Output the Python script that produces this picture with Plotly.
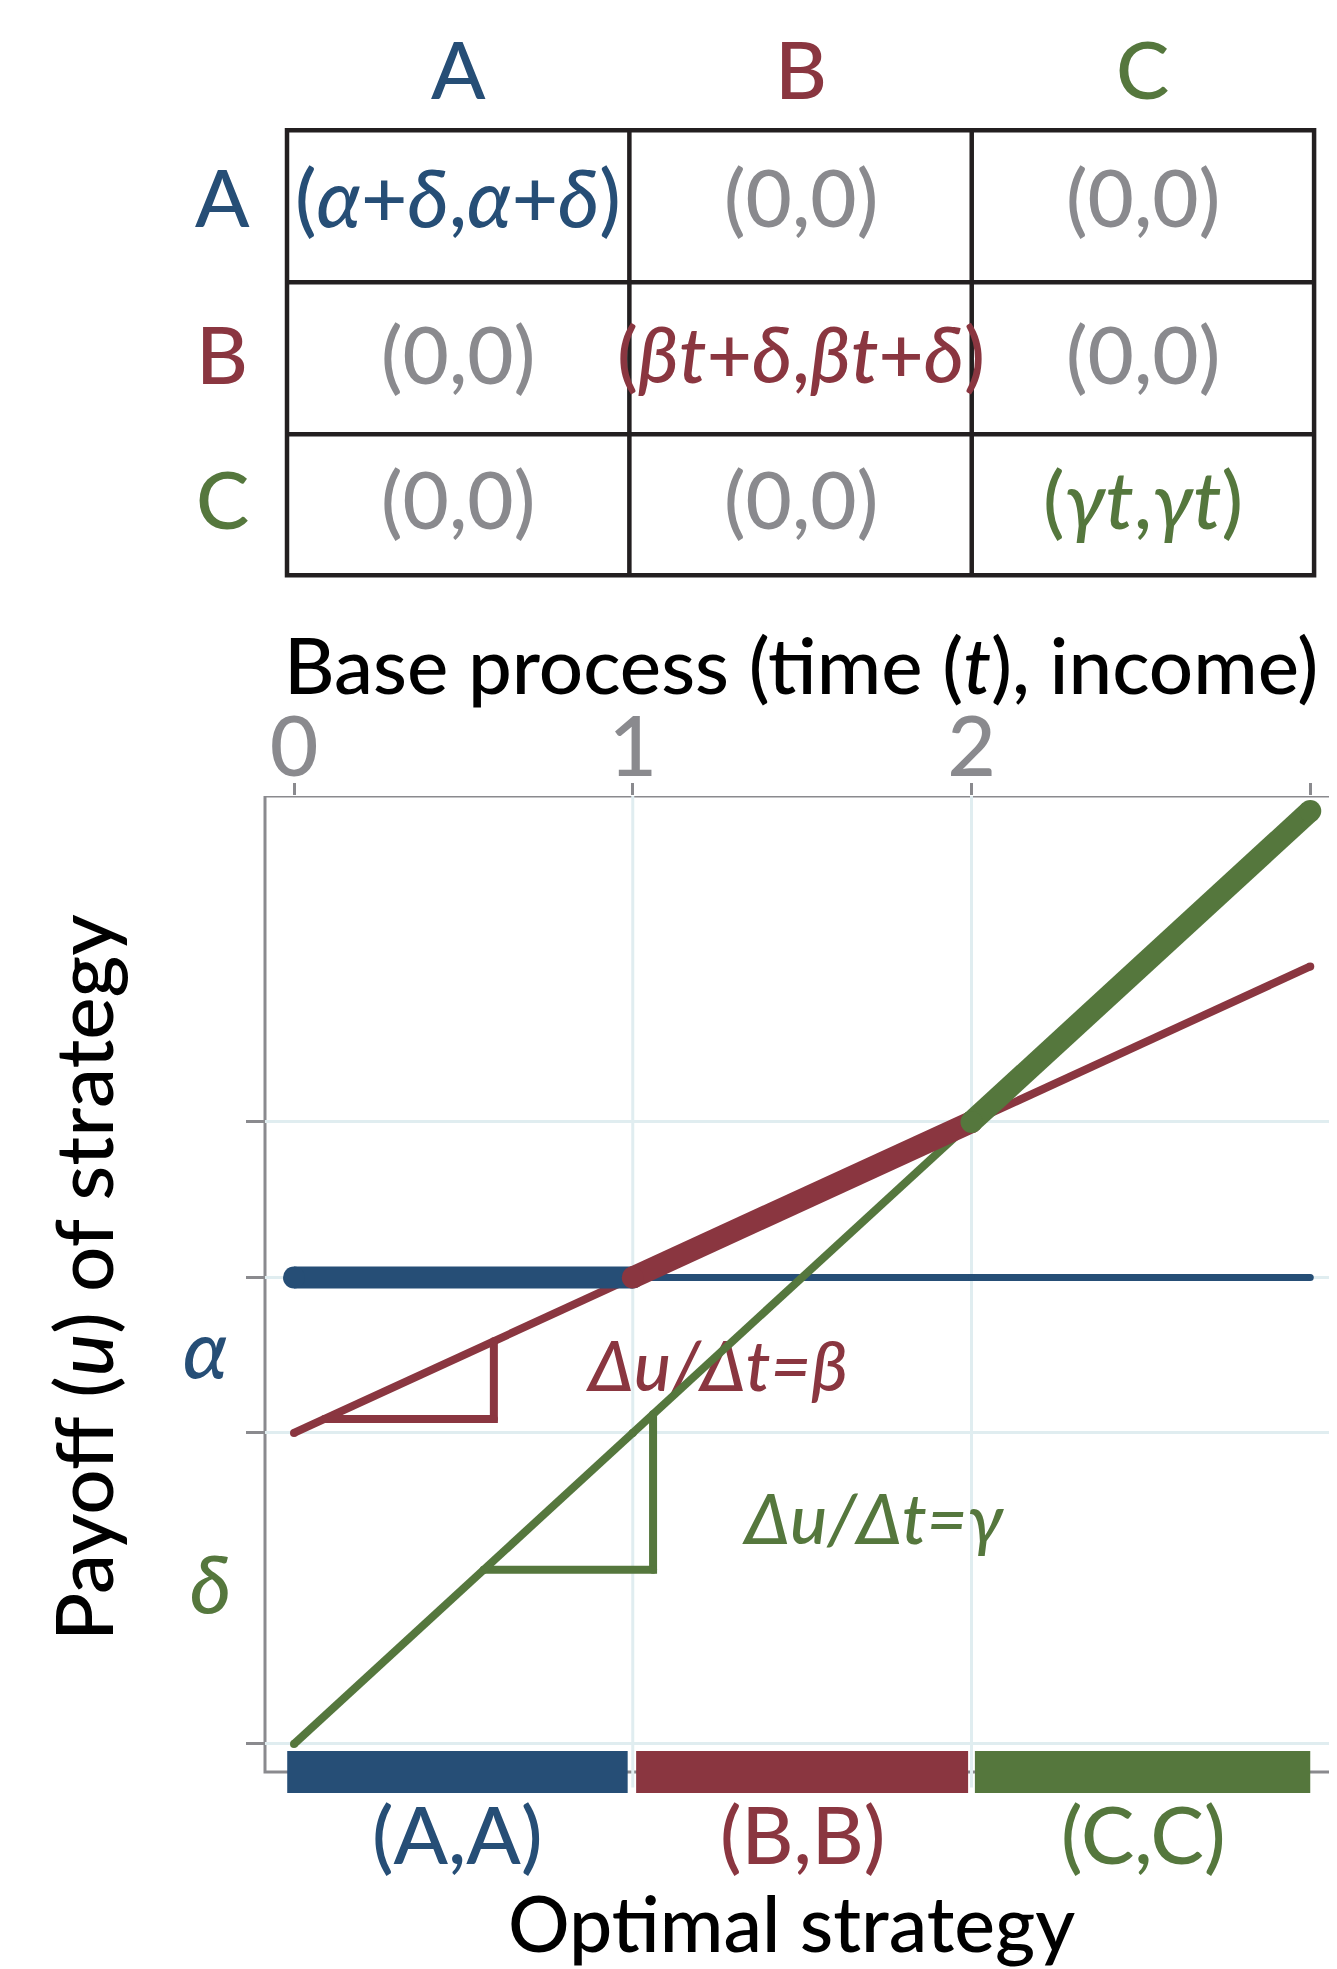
import plotly.graph_objects as go

# ---------------- data ----------------
strategies = ["A", "B", "C"]
strategy_colors = ["#264e76", "#8a3640", "#55773d"]
grey = "#8a8a8e"

t_vals = [0, 1, 2, 3]
payoff_A = [3, 3, 3, 3]      # alpha + delta
payoff_B = [2, 3, 4, 5]      # beta*t + delta
payoff_C = [0, 2, 4, 6]      # gamma*t
payoffs = [payoff_A, payoff_B, payoff_C]
optimal_idx = [(0, 1), (1, 2), (2, 3)]   # index span in t_vals where each strategy is optimal

region_start = [-0.02, 1.01, 2.01]
region_end = [0.985, 1.99, 3.0]
region_labels = ["(A,A)", "(B,B)", "(C,C)"]

x_tickvals = [0, 1, 2, 3]
x_ticktext = ["0", "1", "2", ""]
y_tickvals = [0, 2, 3, 4]

beta_tri_t = [0.09, 0.59, 0.59]
beta_tri_u = [2.09, 2.09, 2.59]
gamma_tri_t = [0.56, 1.06, 1.06]
gamma_tri_u = [1.12, 1.12, 2.12]

payoff_cells = [
    ["(<i>α</i>+<i>δ</i>,<i>α</i>+<i>δ</i>)", "(0,0)", "(0,0)"],
    ["(0,0)", "(<i>βt</i>+<i>δ</i>,<i>βt</i>+<i>δ</i>)", "(0,0)"],
    ["(0,0)", "(0,0)", "(<i>γt</i>,<i>γt</i>)"],
]

# ---------------- geometry ----------------
OFF = 8                      # default page margin of the html body
W, H = 1337 - OFF, 1969 - OFF
ML, MR, MT = 265 - OFF, 1, 0
PLOT_BOTTOM = 1796           # page pixel of plot-area bottom
MB = H - (PLOT_BOTTOM - OFF)
PW = W - ML - MR
PH = H - MT - MB
FONT = "Lato, 'Liberation Sans', sans-serif"
WT = 500


def py(p):
    return (PLOT_BOTTOM - p) / PH


def px(p):
    return (p - OFF - ML) / PW


def fnt(size, color):
    return dict(family=FONT, size=size, color=color, weight=WT)


table_rows = [124 - OFF, 278 - OFF, 432 - OFF, 575 - OFF]
table_text_y = [191 - OFF, 350 - OFF, 497 - OFF]
Y_TOP = 6.096
Y_BOT = Y_TOP - (PLOT_BOTTOM - 796) / 155.5
FRAME_BOT = -0.18

fig = go.Figure()

# optimal-strategy bars
fig.add_trace(go.Bar(
    orientation="h",
    y=[FRAME_BOT] * 3,
    base=region_start,
    x=[e - s for s, e in zip(region_start, region_end)],
    width=0.27,
    marker=dict(color=strategy_colors, line=dict(width=0)),
    cliponaxis=False,
    hoverinfo="skip",
    showlegend=False,
))


def thin(t, u, color, width=8):
    fig.add_trace(go.Scatter(x=t, y=u, mode="lines+markers",
                             line=dict(color=color, width=width),
                             marker=dict(color=color, size=width),
                             hoverinfo="skip", showlegend=False))


thin(t_vals, payoff_A, strategy_colors[0], 7)
thin(t_vals, payoff_B, strategy_colors[1], 8)
thin(beta_tri_t, beta_tri_u, strategy_colors[1], 8)
fig.add_trace(go.Scatter(x=[1.252], y=[2.38], mode="text",
                         text=["<i>Δu/Δt=β</i>"],
                         textfont=fnt(70, strategy_colors[1]),
                         hoverinfo="skip", showlegend=False))
thin(gamma_tri_t, gamma_tri_u, strategy_colors[2], 8)
fig.add_trace(go.Scatter(x=[1.712], y=[1.40], mode="text",
                         text=["<i>Δu/Δt=γ</i>"],
                         textfont=fnt(70, strategy_colors[2]),
                         hoverinfo="skip", showlegend=False))
thin(t_vals, payoff_C, strategy_colors[2], 8)

for i, (a, b) in enumerate(optimal_idx):
    fig.add_trace(go.Scatter(x=t_vals[a:b + 1], y=payoffs[i][a:b + 1],
                             mode="lines+markers",
                             line=dict(color=strategy_colors[i], width=22),
                             marker=dict(color=strategy_colors[i], size=22),
                             hoverinfo="skip", showlegend=False))

shapes = []
for xv in [1, 2]:
    shapes.append(dict(type="line", xref="x", yref="y", x0=xv, x1=xv, y0=-0.28, y1=Y_TOP,
                       line=dict(color="#e0edf0", width=3), layer="below"))
# plot frame
shapes.append(dict(type="rect", xref="paper", yref="y", x0=0, x1=1, y0=FRAME_BOT, y1=Y_TOP,
                   line=dict(color=grey, width=3), fillcolor="rgba(0,0,0,0)", layer="below"))

# payoff table
tcol = "#231f20"
shapes.append(dict(type="rect", xref="x2", yref="y2", x0=0, x1=3,
                   y0=table_rows[0], y1=table_rows[-1], line=dict(color=tcol, width=4.5)))
for r in table_rows[1:-1]:
    shapes.append(dict(type="line", xref="x2", yref="y2", x0=0, x1=3, y0=r, y1=r,
                       line=dict(color=tcol, width=4.5)))
for c in [1, 2]:
    shapes.append(dict(type="line", xref="x2", yref="y2", x0=c, x1=c,
                       y0=table_rows[0], y1=table_rows[-1], line=dict(color=tcol, width=4.5)))

ann = []
for j, s in enumerate(strategies):
    ann.append(dict(xref="x2", yref="y2", x=j + 0.5, y=61 - OFF, text=s, showarrow=False,
                    xanchor="center", yanchor="middle", font=fnt(80, strategy_colors[j])))
    ann.append(dict(xref="paper", yref="y2", x=px(222), y=table_text_y[j], text=s, showarrow=False,
                    xanchor="center", yanchor="middle", font=fnt(80, strategy_colors[j])))
    for k in range(3):
        ann.append(dict(xref="x2", yref="y2", x=k + 0.5, y=table_text_y[j], text=payoff_cells[j][k],
                        showarrow=False, xanchor="center", yanchor="middle",
                        font=fnt(78 if (j == 1 and k == 1) else 80,
                                 strategy_colors[j] if j == k else grey)))

# axis-side labels
ann.append(dict(xref="paper", yref="paper", x=px(801), y=py(664),
                text="Base process (time (<i>t</i>), income)", showarrow=False,
                xanchor="center", yanchor="middle", font=fnt(78, "black")))
ann.append(dict(xref="paper", yref="paper", x=px(82), y=py(1278), textangle=-90,
                text="Payoff (<i>u</i>) of strategy", showarrow=False,
                xanchor="center", yanchor="middle", font=fnt(80, "black")))
ann.append(dict(xref="paper", yref="y", x=px(205), y=2.5, yshift=8, text="<i>α</i>", showarrow=False,
                xanchor="center", yanchor="middle", font=fnt(80, strategy_colors[0])))
ann.append(dict(xref="paper", yref="y", x=px(210), y=1.0, yshift=6, text="<i>δ</i>", showarrow=False,
                xanchor="center", yanchor="middle", font=fnt(80, strategy_colors[2])))
for i, lab in enumerate(region_labels):
    ann.append(dict(xref="x", yref="paper", x=(region_start[i] + region_end[i]) / 2, y=py(1833),
                    text=lab, showarrow=False, xanchor="center", yanchor="middle",
                    font=fnt(80, strategy_colors[i])))
ann.append(dict(xref="paper", yref="paper", x=px(791), y=py(1922), text="Optimal strategy",
                showarrow=False, xanchor="center", yanchor="middle", font=fnt(77, "black")))

fig.update_layout(
    width=W, height=H,
    margin=dict(l=ML, r=MR, t=MT, b=MB, pad=0),
    paper_bgcolor="white", plot_bgcolor="white",
    showlegend=False,
    barmode="overlay",
    font=dict(family=FONT),
    xaxis=dict(domain=[0, 1], range=[-0.0856, 3.076], side="top", anchor="y",
               tickmode="array", tickvals=x_tickvals, ticktext=x_ticktext,
               ticks="outside", ticklen=12, tickwidth=3, tickcolor=grey,
               tickfont=fnt(84, grey), ticklabelstandoff=-27,
               showline=False, showgrid=False, zeroline=False,
               layer="below traces", fixedrange=True),
    yaxis=dict(domain=[0, py(796)], range=[Y_BOT, Y_TOP], anchor="x",
               tickmode="array", tickvals=y_tickvals, showticklabels=False,
               ticks="outside", ticklen=18, tickwidth=3, tickcolor=grey,
               showline=False,
               showgrid=True, gridcolor="#e0edf0", gridwidth=3,
               zeroline=False, layer="below traces", fixedrange=True),
    xaxis2=dict(domain=[0, 1], range=[-0.0643, 3.064], anchor="y2", visible=False, fixedrange=True),
    yaxis2=dict(domain=[py(600), 1], range=[600 - OFF, 0 - OFF], anchor="x2", visible=False,
                fixedrange=True),
    shapes=shapes,
    annotations=ann,
)

fig.write_html("out.html")
